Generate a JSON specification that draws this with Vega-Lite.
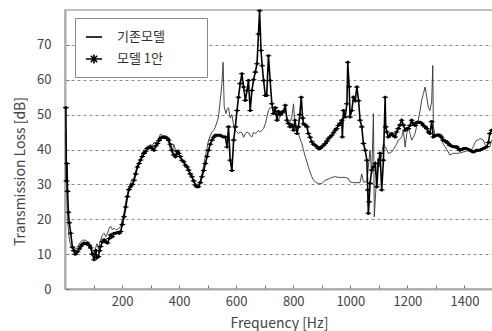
{
  "$schema": "https://vega.github.io/schema/vega-lite/v6.json",
  "width": 428,
  "height": 279,
  "autosize": "none",
  "padding": {"left": 65, "top": 10, "right": 0, "bottom": 42},
  "background": "white",
  "config": {
    "font": "Noto Sans CJK KR",
    "view": {"stroke": "#aaaaaa", "strokeWidth": 1.5},
    "axis": {"labelColor": "#444444", "titleColor": "#444444", "labelFontSize": 13, "titleFontSize": 14, "titleFontWeight": "normal", "domainColor": "#aaaaaa", "domainWidth": 2, "tickColor": "#777777"}
  },
  "data": {"values": [
{"f":3,"v":52,"s":"모델 1안"},{"f":5,"v":31,"s":"모델 1안"},{"f":7,"v":36,"s":"모델 1안"},{"f":9,"v":28,"s":"모델 1안"},{"f":12,"v":22,"s":"모델 1안"},{"f":15,"v":19,"s":"모델 1안"},{"f":20,"v":16,"s":"모델 1안"},{"f":26,"v":12,"s":"모델 1안"},{"f":31,"v":11,"s":"모델 1안"},{"f":36,"v":10,"s":"모델 1안"},{"f":44,"v":10.7,"s":"모델 1안"},{"f":50,"v":11.5,"s":"모델 1안"},{"f":55,"v":12.2,"s":"모델 1안"},{"f":61,"v":12.8,"s":"모델 1안"},{"f":67,"v":13.2,"s":"모델 1안"},{"f":73,"v":13,"s":"모델 1안"},{"f":79,"v":13.2,"s":"모델 1안"},{"f":85,"v":12.5,"s":"모델 1안"},{"f":90,"v":11.8,"s":"모델 1안"},{"f":96,"v":10,"s":"모델 1안"},{"f":102,"v":8.4,"s":"모델 1안"},{"f":108,"v":11,"s":"모델 1안"},{"f":112,"v":9,"s":"모델 1안"},{"f":117,"v":9.3,"s":"모델 1안"},{"f":121,"v":11,"s":"모델 1안"},{"f":125,"v":12.2,"s":"모델 1안"},{"f":131,"v":13.5,"s":"모델 1안"},{"f":137,"v":14.1,"s":"모델 1안"},{"f":143,"v":13.5,"s":"모델 1안"},{"f":149,"v":13.2,"s":"모델 1안"},{"f":155,"v":14.5,"s":"모델 1안"},{"f":160,"v":15.5,"s":"모델 1안"},{"f":166,"v":15,"s":"모델 1안"},{"f":172,"v":16,"s":"모델 1안"},{"f":178,"v":16,"s":"모델 1안"},{"f":184,"v":16.2,"s":"모델 1안"},{"f":190,"v":16,"s":"모델 1안"},{"f":195,"v":16.5,"s":"모델 1안"},{"f":201,"v":18.5,"s":"모델 1안"},{"f":207,"v":20.7,"s":"모델 1안"},{"f":213,"v":23.5,"s":"모델 1안"},{"f":219,"v":26.5,"s":"모델 1안"},{"f":224,"v":28.5,"s":"모델 1안"},{"f":230,"v":29.3,"s":"모델 1안"},{"f":236,"v":30,"s":"모델 1안"},{"f":242,"v":31.2,"s":"모델 1안"},{"f":248,"v":33,"s":"모델 1안"},{"f":254,"v":35,"s":"모델 1안"},{"f":260,"v":36,"s":"모델 1안"},{"f":265,"v":37,"s":"모델 1안"},{"f":271,"v":38,"s":"모델 1안"},{"f":277,"v":38.9,"s":"모델 1안"},{"f":283,"v":39.5,"s":"모델 1안"},{"f":289,"v":40.3,"s":"모델 1안"},{"f":295,"v":40.5,"s":"모델 1안"},{"f":300,"v":40.8,"s":"모델 1안"},{"f":306,"v":40.3,"s":"모델 1안"},{"f":312,"v":39.8,"s":"모델 1안"},{"f":318,"v":41,"s":"모델 1안"},{"f":324,"v":41.7,"s":"모델 1안"},{"f":330,"v":42.6,"s":"모델 1안"},{"f":335,"v":43.2,"s":"모델 1안"},{"f":341,"v":43.6,"s":"모델 1안"},{"f":347,"v":43.6,"s":"모델 1안"},{"f":352,"v":43.6,"s":"모델 1안"},{"f":358,"v":43.2,"s":"모델 1안"},{"f":363,"v":42.7,"s":"모델 1안"},{"f":369,"v":41.5,"s":"모델 1안"},{"f":375,"v":39.8,"s":"모델 1안"},{"f":381,"v":38.5,"s":"모델 1안"},{"f":387,"v":37.9,"s":"모델 1안"},{"f":393,"v":39.5,"s":"모델 1안"},{"f":398,"v":38.9,"s":"모델 1안"},{"f":404,"v":38,"s":"모델 1안"},{"f":410,"v":36.9,"s":"모델 1안"},{"f":416,"v":36.5,"s":"모델 1안"},{"f":422,"v":35.5,"s":"모델 1안"},{"f":428,"v":35,"s":"모델 1안"},{"f":433,"v":34.1,"s":"모델 1안"},{"f":439,"v":33,"s":"모델 1안"},{"f":445,"v":32.2,"s":"모델 1안"},{"f":451,"v":31,"s":"모델 1안"},{"f":457,"v":29.8,"s":"모델 1안"},{"f":462,"v":29.3,"s":"모델 1안"},{"f":468,"v":29.3,"s":"모델 1안"},{"f":474,"v":30.5,"s":"모델 1안"},{"f":480,"v":32.2,"s":"모델 1안"},{"f":486,"v":34,"s":"모델 1안"},{"f":492,"v":36,"s":"모델 1안"},{"f":498,"v":38,"s":"모델 1안"},{"f":503,"v":39.8,"s":"모델 1안"},{"f":509,"v":41.5,"s":"모델 1안"},{"f":515,"v":42.7,"s":"모델 1안"},{"f":521,"v":43.5,"s":"모델 1안"},{"f":527,"v":44.1,"s":"모델 1안"},{"f":533,"v":44.1,"s":"모델 1안"},{"f":538,"v":44.1,"s":"모델 1안"},{"f":544,"v":44.1,"s":"모델 1안"},{"f":550,"v":43.8,"s":"모델 1안"},{"f":556,"v":43.6,"s":"모델 1안"},{"f":562,"v":43.6,"s":"모델 1안"},{"f":568,"v":40.7,"s":"모델 1안"},{"f":573,"v":46.5,"s":"모델 1안"},{"f":579,"v":36.9,"s":"모델 1안"},{"f":585,"v":34,"s":"모델 1안"},{"f":591,"v":42.7,"s":"모델 1안"},{"f":597,"v":46.5,"s":"모델 1안"},{"f":603,"v":51.2,"s":"모델 1안"},{"f":608,"v":55,"s":"모델 1안"},{"f":614,"v":58.9,"s":"모델 1안"},{"f":620,"v":61.7,"s":"모델 1안"},{"f":626,"v":57.9,"s":"모델 1안"},{"f":632,"v":54.1,"s":"모델 1안"},{"f":638,"v":56.9,"s":"모델 1안"},{"f":643,"v":59.8,"s":"모델 1안"},{"f":649,"v":51.2,"s":"모델 1안"},{"f":655,"v":56.9,"s":"모델 1안"},{"f":661,"v":60,"s":"모델 1안"},{"f":667,"v":62.2,"s":"모델 1안"},{"f":673,"v":64.6,"s":"모델 1안"},{"f":678,"v":73.1,"s":"모델 1안"},{"f":682,"v":79.8,"s":"모델 1안"},{"f":687,"v":68.4,"s":"모델 1안"},{"f":691,"v":64,"s":"모델 1안"},{"f":696,"v":59.8,"s":"모델 1안"},{"f":702,"v":55.5,"s":"모델 1안"},{"f":707,"v":55.5,"s":"모델 1안"},{"f":713,"v":66.9,"s":"모델 1안"},{"f":719,"v":59.8,"s":"모델 1안"},{"f":725,"v":53.1,"s":"모델 1안"},{"f":731,"v":50.3,"s":"모델 1안"},{"f":737,"v":52,"s":"모델 1안"},{"f":743,"v":48.4,"s":"모델 1안"},{"f":748,"v":50.9,"s":"모델 1안"},{"f":754,"v":50,"s":"모델 1안"},{"f":760,"v":50.5,"s":"모델 1안"},{"f":766,"v":51,"s":"모델 1안"},{"f":772,"v":52.7,"s":"모델 1안"},{"f":778,"v":48.4,"s":"모델 1안"},{"f":783,"v":47.5,"s":"모델 1안"},{"f":789,"v":46.5,"s":"모델 1안"},{"f":795,"v":47,"s":"모델 1안"},{"f":801,"v":45.5,"s":"모델 1안"},{"f":806,"v":48.4,"s":"모델 1안"},{"f":813,"v":44.6,"s":"모델 1안"},{"f":818,"v":46.5,"s":"모델 1안"},{"f":823,"v":50,"s":"모델 1안"},{"f":828,"v":55,"s":"모델 1안"},{"f":833,"v":49,"s":"모델 1안"},{"f":836,"v":47.4,"s":"모델 1안"},{"f":842,"v":47,"s":"모델 1안"},{"f":848,"v":46.5,"s":"모델 1안"},{"f":853,"v":44.6,"s":"모델 1안"},{"f":859,"v":43.5,"s":"모델 1안"},{"f":865,"v":42.2,"s":"모델 1안"},{"f":871,"v":41.5,"s":"모델 1안"},{"f":877,"v":41.2,"s":"모델 1안"},{"f":883,"v":40.8,"s":"모델 1안"},{"f":888,"v":40.3,"s":"모델 1안"},{"f":894,"v":40.3,"s":"모델 1안"},{"f":900,"v":40.8,"s":"모델 1안"},{"f":906,"v":41.2,"s":"모델 1안"},{"f":912,"v":41.7,"s":"모델 1안"},{"f":918,"v":42.4,"s":"모델 1안"},{"f":923,"v":43.1,"s":"모델 1안"},{"f":929,"v":43.6,"s":"모델 1안"},{"f":935,"v":44.1,"s":"모델 1안"},{"f":941,"v":44.8,"s":"모델 1안"},{"f":947,"v":45.5,"s":"모델 1안"},{"f":952,"v":46,"s":"모델 1안"},{"f":958,"v":46.9,"s":"모델 1안"},{"f":964,"v":47.5,"s":"모델 1안"},{"f":970,"v":48.4,"s":"모델 1안"},{"f":972,"v":43.6,"s":"모델 1안"},{"f":976,"v":51.2,"s":"모델 1안"},{"f":982,"v":49.3,"s":"모델 1안"},{"f":988,"v":53.1,"s":"모델 1안"},{"f":991,"v":65,"s":"모델 1안"},{"f":996,"v":58,"s":"모델 1안"},{"f":999,"v":49.3,"s":"모델 1안"},{"f":1005,"v":51.2,"s":"모델 1안"},{"f":1011,"v":55,"s":"모델 1안"},{"f":1017,"v":54,"s":"모델 1안"},{"f":1023,"v":57.9,"s":"모델 1안"},{"f":1029,"v":54,"s":"모델 1안"},{"f":1034,"v":48.4,"s":"모델 1안"},{"f":1040,"v":46.5,"s":"모델 1안"},{"f":1046,"v":41.7,"s":"모델 1안"},{"f":1052,"v":39.8,"s":"모델 1안"},{"f":1058,"v":36.9,"s":"모델 1안"},{"f":1061,"v":28.4,"s":"모델 1안"},{"f":1063,"v":21.7,"s":"모델 1안"},{"f":1066,"v":25,"s":"모델 1안"},{"f":1069,"v":30.3,"s":"모델 1안"},{"f":1075,"v":34.1,"s":"모델 1안"},{"f":1081,"v":35,"s":"모델 1안"},{"f":1087,"v":36,"s":"모델 1안"},{"f":1093,"v":29.3,"s":"모델 1안"},{"f":1098,"v":36,"s":"모델 1안"},{"f":1104,"v":38.9,"s":"모델 1안"},{"f":1110,"v":28.4,"s":"모델 1안"},{"f":1116,"v":36.9,"s":"모델 1안"},{"f":1122,"v":55,"s":"모델 1안"},{"f":1124,"v":46.5,"s":"모델 1안"},{"f":1128,"v":45,"s":"모델 1안"},{"f":1133,"v":43.6,"s":"모델 1안"},{"f":1139,"v":44,"s":"모델 1안"},{"f":1145,"v":44.6,"s":"모델 1안"},{"f":1151,"v":44,"s":"모델 1안"},{"f":1157,"v":43.6,"s":"모델 1안"},{"f":1162,"v":45,"s":"모델 1안"},{"f":1168,"v":46,"s":"모델 1안"},{"f":1174,"v":47,"s":"모델 1안"},{"f":1180,"v":48.4,"s":"모델 1안"},{"f":1186,"v":47,"s":"모델 1안"},{"f":1192,"v":45.5,"s":"모델 1안"},{"f":1198,"v":46,"s":"모델 1안"},{"f":1203,"v":46,"s":"모델 1안"},{"f":1209,"v":46.9,"s":"모델 1안"},{"f":1215,"v":48.4,"s":"모델 1안"},{"f":1221,"v":47.4,"s":"모델 1안"},{"f":1227,"v":46.9,"s":"모델 1안"},{"f":1233,"v":47.8,"s":"모델 1안"},{"f":1238,"v":47.8,"s":"모델 1안"},{"f":1244,"v":47.8,"s":"모델 1안"},{"f":1250,"v":47.5,"s":"모델 1안"},{"f":1256,"v":46.9,"s":"모델 1안"},{"f":1262,"v":46.5,"s":"모델 1안"},{"f":1268,"v":46,"s":"모델 1안"},{"f":1274,"v":45,"s":"모델 1안"},{"f":1279,"v":44.6,"s":"모델 1안"},{"f":1285,"v":48,"s":"모델 1안"},{"f":1291,"v":43.6,"s":"모델 1안"},{"f":1297,"v":44,"s":"모델 1안"},{"f":1303,"v":44.1,"s":"모델 1안"},{"f":1309,"v":44.1,"s":"모델 1안"},{"f":1314,"v":44.1,"s":"모델 1안"},{"f":1320,"v":43.5,"s":"모델 1안"},{"f":1326,"v":42.7,"s":"모델 1안"},{"f":1332,"v":42.4,"s":"모델 1안"},{"f":1338,"v":42.2,"s":"모델 1안"},{"f":1343,"v":41.7,"s":"모델 1안"},{"f":1349,"v":41.2,"s":"모델 1안"},{"f":1355,"v":41,"s":"모델 1안"},{"f":1361,"v":40.8,"s":"모델 1안"},{"f":1367,"v":40.8,"s":"모델 1안"},{"f":1373,"v":40.8,"s":"모델 1안"},{"f":1378,"v":40.3,"s":"모델 1안"},{"f":1384,"v":39.8,"s":"모델 1안"},{"f":1390,"v":40,"s":"모델 1안"},{"f":1396,"v":40.3,"s":"모델 1안"},{"f":1402,"v":40.3,"s":"모델 1안"},{"f":1407,"v":40.3,"s":"모델 1안"},{"f":1413,"v":40,"s":"모델 1안"},{"f":1419,"v":39.8,"s":"모델 1안"},{"f":1425,"v":39.5,"s":"모델 1안"},{"f":1431,"v":39.3,"s":"모델 1안"},{"f":1437,"v":39.5,"s":"모델 1안"},{"f":1442,"v":39.8,"s":"모델 1안"},{"f":1448,"v":39.8,"s":"모델 1안"},{"f":1454,"v":39.8,"s":"모델 1안"},{"f":1460,"v":40,"s":"모델 1안"},{"f":1466,"v":40.3,"s":"모델 1안"},{"f":1472,"v":40.5,"s":"모델 1안"},{"f":1478,"v":40.8,"s":"모델 1안"},{"f":1484,"v":42,"s":"모델 1안"},{"f":1489,"v":44.6,"s":"모델 1안"},{"f":1495,"v":45.5,"s":"모델 1안"},
{"f":3,"v":45,"s":"기존모델"},{"f":5,"v":32,"s":"기존모델"},{"f":7,"v":25,"s":"기존모델"},{"f":10,"v":19,"s":"기존모델"},{"f":14,"v":15,"s":"기존모델"},{"f":18,"v":13,"s":"기존모델"},{"f":24,"v":12,"s":"기존모델"},{"f":30,"v":11.5,"s":"기존모델"},{"f":36,"v":11.5,"s":"기존모델"},{"f":44,"v":12,"s":"기존모델"},{"f":50,"v":13,"s":"기존모델"},{"f":55,"v":13.5,"s":"기존모델"},{"f":61,"v":14,"s":"기존모델"},{"f":67,"v":14,"s":"기존모델"},{"f":73,"v":14,"s":"기존모델"},{"f":79,"v":13.5,"s":"기존모델"},{"f":85,"v":13,"s":"기존모델"},{"f":90,"v":12.5,"s":"기존모델"},{"f":96,"v":11,"s":"기존모델"},{"f":102,"v":10,"s":"기존모델"},{"f":108,"v":12,"s":"기존모델"},{"f":112,"v":13,"s":"기존모델"},{"f":117,"v":11.5,"s":"기존모델"},{"f":121,"v":13,"s":"기존모델"},{"f":125,"v":14,"s":"기존모델"},{"f":131,"v":15.5,"s":"기존모델"},{"f":137,"v":16,"s":"기존모델"},{"f":143,"v":15,"s":"기존모델"},{"f":149,"v":16,"s":"기존모델"},{"f":155,"v":17.5,"s":"기존모델"},{"f":160,"v":18,"s":"기존모델"},{"f":166,"v":17,"s":"기존모델"},{"f":172,"v":17.5,"s":"기존모델"},{"f":178,"v":17,"s":"기존모델"},{"f":184,"v":17,"s":"기존모델"},{"f":190,"v":17.5,"s":"기존모델"},{"f":195,"v":18,"s":"기존모델"},{"f":201,"v":20,"s":"기존모델"},{"f":207,"v":22,"s":"기존모델"},{"f":213,"v":25,"s":"기존모델"},{"f":219,"v":27.5,"s":"기존모델"},{"f":224,"v":29,"s":"기존모델"},{"f":230,"v":30.5,"s":"기존모델"},{"f":236,"v":31.5,"s":"기존모델"},{"f":242,"v":32,"s":"기존모델"},{"f":248,"v":34,"s":"기존모델"},{"f":254,"v":35.5,"s":"기존모델"},{"f":260,"v":36.5,"s":"기존모델"},{"f":265,"v":37.5,"s":"기존모델"},{"f":271,"v":39,"s":"기존모델"},{"f":277,"v":40,"s":"기존모델"},{"f":283,"v":40.5,"s":"기존모델"},{"f":289,"v":41,"s":"기존모델"},{"f":295,"v":41,"s":"기존모델"},{"f":300,"v":41.5,"s":"기존모델"},{"f":306,"v":41,"s":"기존모델"},{"f":312,"v":42,"s":"기존모델"},{"f":318,"v":42,"s":"기존모델"},{"f":324,"v":42.5,"s":"기존모델"},{"f":330,"v":43.5,"s":"기존모델"},{"f":335,"v":44.5,"s":"기존모델"},{"f":341,"v":44,"s":"기존모델"},{"f":347,"v":43,"s":"기존모델"},{"f":352,"v":43.5,"s":"기존모델"},{"f":358,"v":43,"s":"기존모델"},{"f":363,"v":42,"s":"기존모델"},{"f":369,"v":40,"s":"기존모델"},{"f":375,"v":39,"s":"기존모델"},{"f":381,"v":41.5,"s":"기존모델"},{"f":387,"v":40,"s":"기존모델"},{"f":393,"v":38,"s":"기존모델"},{"f":398,"v":40,"s":"기존모델"},{"f":404,"v":37.5,"s":"기존모델"},{"f":410,"v":37,"s":"기존모델"},{"f":416,"v":36,"s":"기존모델"},{"f":422,"v":36,"s":"기존모델"},{"f":428,"v":35,"s":"기존모델"},{"f":433,"v":34,"s":"기존모델"},{"f":439,"v":33,"s":"기존모델"},{"f":445,"v":32,"s":"기존모델"},{"f":451,"v":31,"s":"기존모델"},{"f":457,"v":30,"s":"기존모델"},{"f":462,"v":29.5,"s":"기존모델"},{"f":468,"v":29.5,"s":"기존모델"},{"f":474,"v":31,"s":"기존모델"},{"f":480,"v":33,"s":"기존모델"},{"f":486,"v":35.5,"s":"기존모델"},{"f":492,"v":38,"s":"기존모델"},{"f":498,"v":40.5,"s":"기존모델"},{"f":503,"v":42.6,"s":"기존모델"},{"f":509,"v":44,"s":"기존모델"},{"f":515,"v":45,"s":"기존모델"},{"f":521,"v":45.5,"s":"기존모델"},{"f":527,"v":46.5,"s":"기존모델"},{"f":533,"v":48,"s":"기존모델"},{"f":538,"v":49.3,"s":"기존모델"},{"f":544,"v":54,"s":"기존모델"},{"f":550,"v":58.9,"s":"기존모델"},{"f":554,"v":65,"s":"기존모델"},{"f":558,"v":52.2,"s":"기존모델"},{"f":564,"v":50.3,"s":"기존모델"},{"f":568,"v":51.5,"s":"기존모델"},{"f":573,"v":52,"s":"기존모델"},{"f":579,"v":49,"s":"기존모델"},{"f":585,"v":50,"s":"기존모델"},{"f":591,"v":47,"s":"기존모델"},{"f":597,"v":45.5,"s":"기존모델"},{"f":603,"v":45,"s":"기존모델"},{"f":608,"v":44.6,"s":"기존모델"},{"f":614,"v":45,"s":"기존모델"},{"f":620,"v":44.8,"s":"기존모델"},{"f":626,"v":43.5,"s":"기존모델"},{"f":632,"v":44.6,"s":"기존모델"},{"f":638,"v":45,"s":"기존모델"},{"f":643,"v":44.8,"s":"기존모델"},{"f":649,"v":44,"s":"기존모델"},{"f":655,"v":43.6,"s":"기존모델"},{"f":661,"v":45,"s":"기존모델"},{"f":667,"v":44.5,"s":"기존모델"},{"f":673,"v":45,"s":"기존모델"},{"f":678,"v":45.5,"s":"기존모델"},{"f":684,"v":45,"s":"기존모델"},{"f":690,"v":45.5,"s":"기존모델"},{"f":696,"v":46,"s":"기존모델"},{"f":702,"v":47.4,"s":"기존모델"},{"f":707,"v":49,"s":"기존모델"},{"f":713,"v":51.2,"s":"기존모델"},{"f":719,"v":52,"s":"기존모델"},{"f":725,"v":52,"s":"기존모델"},{"f":731,"v":51,"s":"기존모델"},{"f":737,"v":50.3,"s":"기존모델"},{"f":743,"v":49,"s":"기존모델"},{"f":748,"v":48.4,"s":"기존모델"},{"f":754,"v":49.5,"s":"기존모델"},{"f":760,"v":50.3,"s":"기존모델"},{"f":766,"v":51,"s":"기존모델"},{"f":772,"v":51.2,"s":"기존모델"},{"f":778,"v":49,"s":"기존모델"},{"f":783,"v":47.4,"s":"기존모델"},{"f":789,"v":48,"s":"기존모델"},{"f":795,"v":49.3,"s":"기존모델"},{"f":801,"v":53.1,"s":"기존모델"},{"f":806,"v":46.5,"s":"기존모델"},{"f":812,"v":45.5,"s":"기존모델"},{"f":818,"v":44.6,"s":"기존모델"},{"f":824,"v":43,"s":"기존모델"},{"f":830,"v":41.7,"s":"기존모델"},{"f":836,"v":39.8,"s":"기존모델"},{"f":842,"v":37.9,"s":"기존모델"},{"f":848,"v":36.5,"s":"기존모델"},{"f":853,"v":35,"s":"기존모델"},{"f":859,"v":33.5,"s":"기존모델"},{"f":865,"v":32.2,"s":"기존모델"},{"f":871,"v":31.2,"s":"기존모델"},{"f":877,"v":30.7,"s":"기존모델"},{"f":888,"v":30.2,"s":"기존모델"},{"f":900,"v":30.2,"s":"기존모델"},{"f":912,"v":31.2,"s":"기존모델"},{"f":923,"v":31.5,"s":"기존모델"},{"f":935,"v":32,"s":"기존모델"},{"f":947,"v":32.2,"s":"기존모델"},{"f":958,"v":32,"s":"기존모델"},{"f":970,"v":32,"s":"기존모델"},{"f":982,"v":32,"s":"기존모델"},{"f":993,"v":31.7,"s":"기존모델"},{"f":999,"v":30.7,"s":"기존모델"},{"f":1011,"v":30.5,"s":"기존모델"},{"f":1023,"v":30.5,"s":"기존모델"},{"f":1034,"v":30.5,"s":"기존모델"},{"f":1040,"v":33,"s":"기존모델"},{"f":1046,"v":30.7,"s":"기존모델"},{"f":1058,"v":30.7,"s":"기존모델"},{"f":1063,"v":35,"s":"기존모델"},{"f":1069,"v":39.8,"s":"기존모델"},{"f":1075,"v":33,"s":"기존모델"},{"f":1081,"v":50.3,"s":"기존모델"},{"f":1084,"v":20.7,"s":"기존모델"},{"f":1090,"v":29.3,"s":"기존모델"},{"f":1096,"v":37.4,"s":"기존모델"},{"f":1104,"v":35,"s":"기존모델"},{"f":1110,"v":38.9,"s":"기존모델"},{"f":1116,"v":41.7,"s":"기존모델"},{"f":1122,"v":40.8,"s":"기존모델"},{"f":1128,"v":40,"s":"기존모델"},{"f":1133,"v":38.9,"s":"기존모델"},{"f":1139,"v":39,"s":"기존모델"},{"f":1145,"v":39.3,"s":"기존모델"},{"f":1151,"v":40,"s":"기존모델"},{"f":1157,"v":40.8,"s":"기존모델"},{"f":1162,"v":41.5,"s":"기존모델"},{"f":1168,"v":42.7,"s":"기존모델"},{"f":1174,"v":43,"s":"기존모델"},{"f":1180,"v":43.6,"s":"기존모델"},{"f":1186,"v":45.5,"s":"기존모델"},{"f":1192,"v":40.7,"s":"기존모델"},{"f":1198,"v":44.6,"s":"기존모델"},{"f":1203,"v":46.5,"s":"기존모델"},{"f":1209,"v":44.6,"s":"기존모델"},{"f":1215,"v":42.7,"s":"기존모델"},{"f":1221,"v":43.5,"s":"기존모델"},{"f":1227,"v":44.6,"s":"기존모델"},{"f":1232,"v":46.5,"s":"기존모델"},{"f":1238,"v":48.4,"s":"기존모델"},{"f":1244,"v":51,"s":"기존모델"},{"f":1250,"v":54.1,"s":"기존모델"},{"f":1256,"v":56,"s":"기존모델"},{"f":1262,"v":57.9,"s":"기존모델"},{"f":1268,"v":55,"s":"기존모델"},{"f":1273,"v":52.2,"s":"기존모델"},{"f":1279,"v":51.2,"s":"기존모델"},{"f":1285,"v":53.6,"s":"기존모델"},{"f":1289,"v":64.1,"s":"기존모델"},{"f":1291,"v":46.5,"s":"기존모델"},{"f":1297,"v":44.1,"s":"기존모델"},{"f":1303,"v":44.3,"s":"기존모델"},{"f":1309,"v":44.6,"s":"기존모델"},{"f":1315,"v":43.5,"s":"기존모델"},{"f":1320,"v":42.7,"s":"기존모델"},{"f":1326,"v":41.5,"s":"기존모델"},{"f":1332,"v":40.8,"s":"기존모델"},{"f":1338,"v":40,"s":"기존모델"},{"f":1343,"v":39.3,"s":"기존모델"},{"f":1349,"v":38.4,"s":"기존모델"},{"f":1355,"v":38.7,"s":"기존모델"},{"f":1361,"v":38.9,"s":"기존모델"},{"f":1367,"v":38.9,"s":"기존모델"},{"f":1373,"v":38.9,"s":"기존모델"},{"f":1384,"v":39,"s":"기존모델"},{"f":1396,"v":39.3,"s":"기존모델"},{"f":1407,"v":39.5,"s":"기존모델"},{"f":1419,"v":39.8,"s":"기존모델"},{"f":1425,"v":40,"s":"기존모델"},{"f":1431,"v":40.8,"s":"기존모델"},{"f":1437,"v":42,"s":"기존모델"},{"f":1443,"v":42.7,"s":"기존모델"},{"f":1448,"v":42.7,"s":"기존모델"},{"f":1454,"v":43.1,"s":"기존모델"},{"f":1460,"v":43,"s":"기존모델"},{"f":1466,"v":42.7,"s":"기존모델"},{"f":1472,"v":41.5,"s":"기존모델"},{"f":1478,"v":40.8,"s":"기존모델"},{"f":1484,"v":40.8,"s":"기존모델"},{"f":1489,"v":40.8,"s":"기존모델"},{"f":1495,"v":42.7,"s":"기존모델"}
  ]},
  "encoding": {
    "x": {"field": "f", "type": "quantitative", "scale": {"domain": [0, 1500], "nice": false, "zero": false},
      "axis": {"title": "Frequency [Hz]", "values": [100,200,300,400,500,600,700,800,900,1000,1100,1200,1300,1400], "labelExpr": "datum.value % 200 == 0 ? datum.label : ''", "format": "d", "grid": false, "tickSize": -4, "labelPadding": 10, "titleY": 34, "titleBaseline": "middle"}},
    "y": {"field": "v", "type": "quantitative", "scale": {"domain": [0, 80], "nice": false},
      "axis": {"title": "Transmission Loss [dB]", "values": [0,10,20,30,40,50,60,70], "grid": true, "gridDash": [3, 3], "gridColor": "#888888", "gridWidth": 1, "tickSize": -4, "labelPadding": 18, "titleX": -45, "titleY": 161, "titleBaseline": "middle"}}
  },
  "layer": [
    {"transform": [{"filter": "datum.s == '기존모델'"}], "mark": {"type": "line", "color": "#333333", "strokeWidth": 0.9}},
    {"transform": [{"filter": "datum.s == '모델 1안'"}], "mark": {"type": "line", "color": "#000000", "strokeWidth": 1.6}},
    {"transform": [{"filter": "datum.s == '모델 1안'"}], "mark": {"type": "point", "filled": false, "color": "#000000", "size": 32, "strokeWidth": 1.1, "opacity": 1},
      "encoding": {"shape": {"field": "s", "type": "nominal",
        "scale": {"domain": ["기존모델", "모델 1안"], "range": ["M-1,0L1,0", "M-1,0L1,0M0,-0.55L0,0.55M-0.4,-0.4L0.4,0.4M-0.4,0.4L0.4,-0.4"]},
        "legend": {"title": null, "orient": "none", "legendX": 10, "legendY": 8, "padding": 10, "strokeColor": "#888888", "fillColor": "white", "symbolSize": 260, "symbolStrokeWidth": 1.6, "symbolStrokeColor": "#000000", "symbolFillColor": "transparent", "labelFontSize": 13, "labelColor": "#333333", "labelOffset": 14, "rowPadding": 6, "labelExpr": "datum.label + '\u00a0\u00a0\u00a0\u00a0\u00a0\u00a0\u00a0\u00a0\u00a0\u00a0\u00a0\u200b'"}}}}
  ]
}
